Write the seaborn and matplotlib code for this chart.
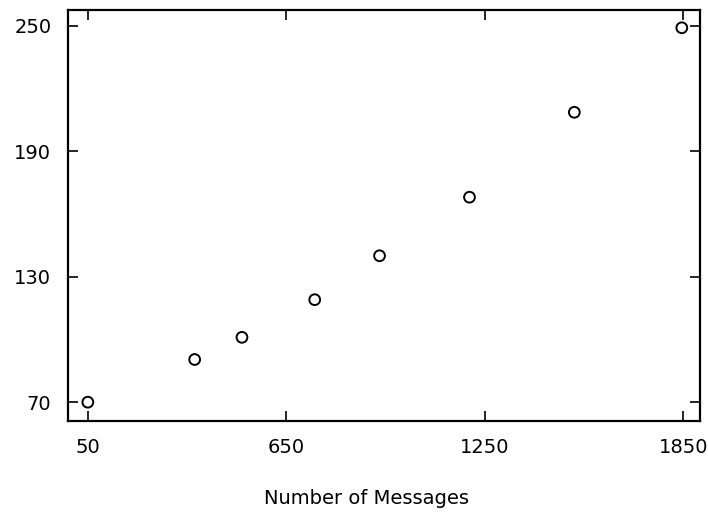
import matplotlib
matplotlib.use("Agg")
import matplotlib.pyplot as plt
import seaborn as sns
import pandas as pd

messages = [50, 373, 516, 736, 932, 1204, 1521, 1846]
values = [70, 90.4, 101, 119, 140, 168, 208.6, 249]
x_ticks = [50, 650, 1250, 1850]
y_ticks = [70, 130, 190, 250]
x_label = "Number of Messages"

sns.set_style("ticks")
plt.rcParams['font.family'] = ['DejaVu Sans']
plt.rcParams['text.color'] = 'black'
plt.rcParams['xtick.color'] = 'black'
plt.rcParams['ytick.color'] = 'black'
plt.rcParams['axes.labelcolor'] = 'black'

df = pd.DataFrame({"messages": messages, "value": values})

fig = plt.figure(figsize=(7.08, 5.15), dpi=100)
ax = fig.add_axes([68/708, 1 - 421/515, (700-68)/708, (421-10)/515])

sns.scatterplot(data=df, x="messages", y="value", ax=ax, marker="o",
                s=60, facecolor="none", edgecolor="black", linewidth=1.4)

ax.set_xlim(-10, 1901)
ax.set_ylim(61, 257.5)
ax.set_xticks(x_ticks)
ax.set_yticks(y_ticks)
ax.set_xticklabels([str(v) for v in x_ticks], fontsize=14)
ax.set_yticklabels([str(v) for v in y_ticks], fontsize=14)
ax.tick_params(direction="in", length=7, width=1.2, top=True, right=True,
               color="black", labelcolor="black")
ax.tick_params(axis="x", pad=12)
ax.tick_params(axis="y", pad=12)
for sp in ax.spines.values():
    sp.set_visible(True)
    sp.set_linewidth(1.6)
    sp.set_color("black")
ax.set_xlabel(x_label, fontsize=14, color="black")
ax.xaxis.set_label_coords(0.473, -0.165)
ax.set_ylabel("")

fig.savefig("out.png", dpi=100)
